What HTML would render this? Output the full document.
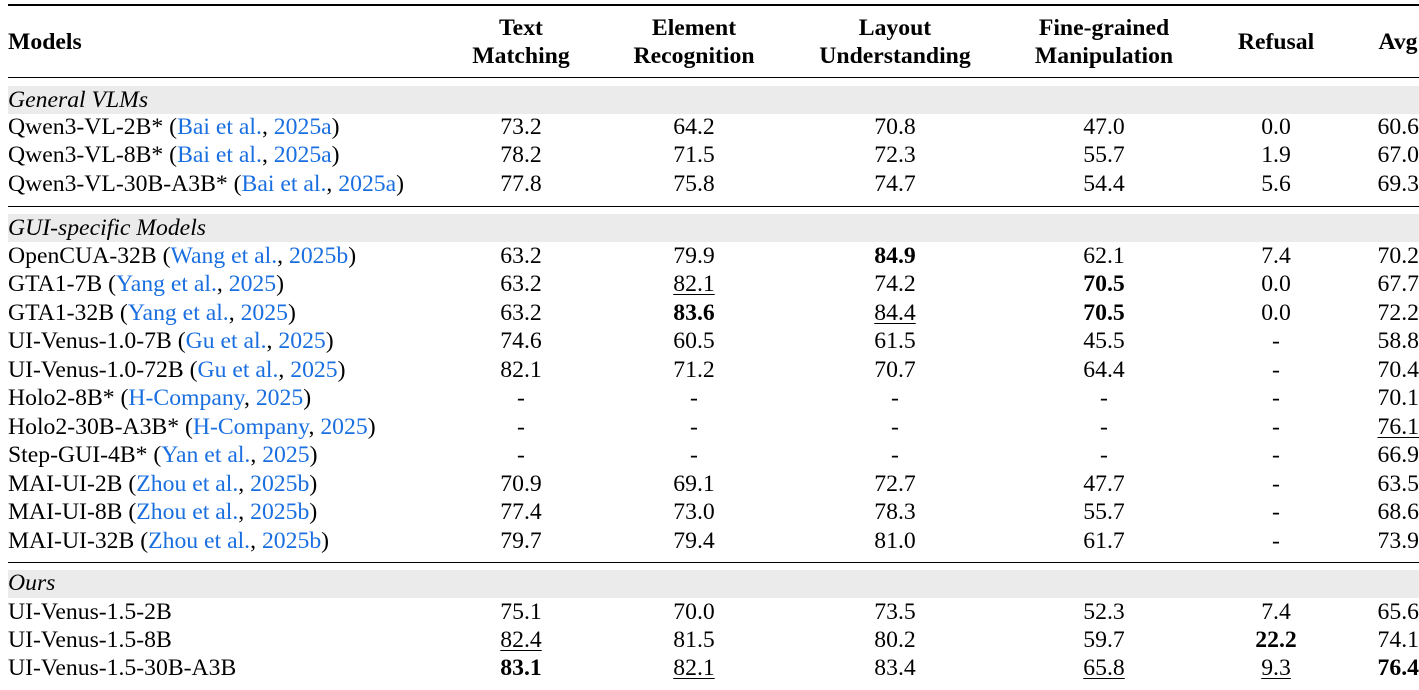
<!DOCTYPE html>
<html><head><meta charset="utf-8"><style>
body{margin:0;width:1419px;height:690px;background:#fff;position:relative;overflow:hidden;font-family:"Liberation Serif",serif;font-size:23.7px;color:#000}
.r{position:absolute;left:0;width:1419px;height:28px;line-height:28px}
.r span{position:absolute;white-space:nowrap}
.m{left:8px}
.c1{left:521px;transform:translateX(-50%)}
.c2{left:694px;transform:translateX(-50%)}
.c3{left:895px;transform:translateX(-50%)}
.c4{left:1104px;transform:translateX(-50%)}
.c5{left:1276px;transform:translateX(-50%)}
.c6{right:0px}
.b{font-weight:bold}
.u{text-decoration:underline;text-underline-offset:3px;text-decoration-thickness:1px}
a{color:#1a6fe0}
.band{position:absolute;left:8px;width:1411px;height:28px;background:#ebebeb}
.rule{position:absolute;left:8px;width:1411px;background:#000}
.h{position:absolute;text-align:center;font-weight:bold;line-height:28px;transform:translateX(-50%);white-space:nowrap}
</style></head><body>
<div class="rule" style="top:4px;height:2px"></div>
<div class="h" style="left:8px;top:28px;transform:none">Models</div>
<div class="h" style="left:521px;top:14px">Text<br>Matching</div>
<div class="h" style="left:694px;top:14px">Element<br>Recognition</div>
<div class="h" style="left:895px;top:14px">Layout<br>Understanding</div>
<div class="h" style="left:1104px;top:14px">Fine-grained<br>Manipulation</div>
<div class="h" style="left:1276px;top:28px">Refusal</div>
<div class="h" style="left:1398px;top:28px">Avg</div>
<div class="rule" style="top:77px;height:1px"></div>

<div class="band" style="top:86px"></div>
<div class="r" style="top:86px"><span class="m"><i>General VLMs</i></span></div>
<div class="r" style="top:113px"><span class="m">Qwen3-VL-2B* (<a>Bai et al.</a>, <a>2025a</a>)</span><span class="c1">73.2</span><span class="c2">64.2</span><span class="c3">70.8</span><span class="c4">47.0</span><span class="c5">0.0</span><span class="c6">60.6</span></div>
<div class="r" style="top:141px"><span class="m">Qwen3-VL-8B* (<a>Bai et al.</a>, <a>2025a</a>)</span><span class="c1">78.2</span><span class="c2">71.5</span><span class="c3">72.3</span><span class="c4">55.7</span><span class="c5">1.9</span><span class="c6">67.0</span></div>
<div class="r" style="top:170px"><span class="m">Qwen3-VL-30B-A3B* (<a>Bai et al.</a>, <a>2025a</a>)</span><span class="c1">77.8</span><span class="c2">75.8</span><span class="c3">74.7</span><span class="c4">54.4</span><span class="c5">5.6</span><span class="c6">69.3</span></div>
<div class="rule" style="top:206px;height:1px"></div>

<div class="band" style="top:214px"></div>
<div class="r" style="top:214px"><span class="m"><i>GUI-specific Models</i></span></div>
<div class="r" style="top:242px"><span class="m">OpenCUA-32B (<a>Wang et al.</a>, <a>2025b</a>)</span><span class="c1">63.2</span><span class="c2">79.9</span><span class="c3 b">84.9</span><span class="c4">62.1</span><span class="c5">7.4</span><span class="c6">70.2</span></div>
<div class="r" style="top:270px"><span class="m">GTA1-7B (<a>Yang et al.</a>, <a>2025</a>)</span><span class="c1">63.2</span><span class="c2 u">82.1</span><span class="c3">74.2</span><span class="c4 b">70.5</span><span class="c5">0.0</span><span class="c6">67.7</span></div>
<div class="r" style="top:299px"><span class="m">GTA1-32B (<a>Yang et al.</a>, <a>2025</a>)</span><span class="c1">63.2</span><span class="c2 b">83.6</span><span class="c3 u">84.4</span><span class="c4 b">70.5</span><span class="c5">0.0</span><span class="c6">72.2</span></div>
<div class="r" style="top:327px"><span class="m">UI-Venus-1.0-7B (<a>Gu et al.</a>, <a>2025</a>)</span><span class="c1">74.6</span><span class="c2">60.5</span><span class="c3">61.5</span><span class="c4">45.5</span><span class="c5">-</span><span class="c6">58.8</span></div>
<div class="r" style="top:356px"><span class="m">UI-Venus-1.0-72B (<a>Gu et al.</a>, <a>2025</a>)</span><span class="c1">82.1</span><span class="c2">71.2</span><span class="c3">70.7</span><span class="c4">64.4</span><span class="c5">-</span><span class="c6">70.4</span></div>
<div class="r" style="top:384px"><span class="m">Holo2-8B* (<a>H-Company</a>, <a>2025</a>)</span><span class="c1">-</span><span class="c2">-</span><span class="c3">-</span><span class="c4">-</span><span class="c5">-</span><span class="c6">70.1</span></div>
<div class="r" style="top:413px"><span class="m">Holo2-30B-A3B* (<a>H-Company</a>, <a>2025</a>)</span><span class="c1">-</span><span class="c2">-</span><span class="c3">-</span><span class="c4">-</span><span class="c5">-</span><span class="c6 u">76.1</span></div>
<div class="r" style="top:441px"><span class="m">Step-GUI-4B* (<a>Yan et al.</a>, <a>2025</a>)</span><span class="c1">-</span><span class="c2">-</span><span class="c3">-</span><span class="c4">-</span><span class="c5">-</span><span class="c6">66.9</span></div>
<div class="r" style="top:470px"><span class="m">MAI-UI-2B (<a>Zhou et al.</a>, <a>2025b</a>)</span><span class="c1">70.9</span><span class="c2">69.1</span><span class="c3">72.7</span><span class="c4">47.7</span><span class="c5">-</span><span class="c6">63.5</span></div>
<div class="r" style="top:498px"><span class="m">MAI-UI-8B (<a>Zhou et al.</a>, <a>2025b</a>)</span><span class="c1">77.4</span><span class="c2">73.0</span><span class="c3">78.3</span><span class="c4">55.7</span><span class="c5">-</span><span class="c6">68.6</span></div>
<div class="r" style="top:527px"><span class="m">MAI-UI-32B (<a>Zhou et al.</a>, <a>2025b</a>)</span><span class="c1">79.7</span><span class="c2">79.4</span><span class="c3">81.0</span><span class="c4">61.7</span><span class="c5">-</span><span class="c6">73.9</span></div>
<div class="rule" style="top:562px;height:1px"></div>

<div class="band" style="top:570px"></div>
<div class="r" style="top:569px"><span class="m"><i>Ours</i></span></div>
<div class="r" style="top:598px"><span class="m">UI-Venus-1.5-2B</span><span class="c1">75.1</span><span class="c2">70.0</span><span class="c3">73.5</span><span class="c4">52.3</span><span class="c5">7.4</span><span class="c6">65.6</span></div>
<div class="r" style="top:626px"><span class="m">UI-Venus-1.5-8B</span><span class="c1 u">82.4</span><span class="c2">81.5</span><span class="c3">80.2</span><span class="c4">59.7</span><span class="c5 b">22.2</span><span class="c6">74.1</span></div>
<div class="r" style="top:654px"><span class="m">UI-Venus-1.5-30B-A3B</span><span class="c1 b">83.1</span><span class="c2 u">82.1</span><span class="c3">83.4</span><span class="c4 u">65.8</span><span class="c5 u">9.3</span><span class="c6 b">76.4</span></div>
</body></html>
